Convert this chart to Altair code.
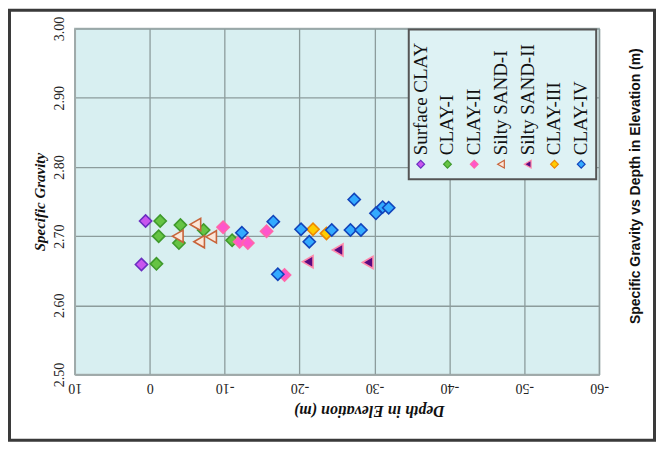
import altair as alt
import pandas as pd

SERIES = ["Surface CLAY", "CLAY-I", "CLAY-II", "Silty SAND-I", "Silty SAND-II", "CLAY-III", "CLAY-IV"]
FILLS = ["#c955ee", "#66c444", "#ff55cc", "#fbe6d8", "#5a0a80", "#ffcc00", "#33aaff"]
STROKES = ["#6a2fc0", "#3f9a2c", "#ff66aa", "#c8643a", "#ff88aa", "#ee8800", "#1144bb"]
SHAPES = ["diamond", "diamond", "diamond", "triangle-left", "triangle-left", "diamond", "diamond"]

surface_depth = [0.55, 1.1]
surface_sg = [2.722, 2.659]
clay1_depth = [-1.4, -1.2, -0.9, -4.1, -3.9, -7.2, -11.0]
clay1_sg = [2.722, 2.700, 2.660, 2.716, 2.690, 2.709, 2.694]
clay2_depth = [-9.8, -12.0, -13.1, -15.6, -18.0]
clay2_sg = [2.713, 2.692, 2.690, 2.707, 2.644]
sand1_depth = [-3.75, -6.1, -6.6, -8.2]
sand1_sg = [2.700, 2.717, 2.692, 2.699]
sand2_depth = [-21.1, -25.1, -29.1]
sand2_sg = [2.663, 2.680, 2.662]
clay3_depth = [-21.8, -23.6]
clay3_sg = [2.710, 2.704]
clay4_depth = [-12.3, -16.5, -17.1, -20.2, -21.3, -24.3, -26.8, -27.3, -28.2, -30.2, -31.1, -31.9]
clay4_sg = [2.705, 2.721, 2.645, 2.710, 2.692, 2.709, 2.709, 2.753, 2.709, 2.733, 2.742, 2.741]

X_TICKS = [10, 0, -10, -20, -30, -40, -50, -60]
Y_TICKS = [2.5, 2.6, 2.7, 2.8, 2.9, 3.0]

TITLE = "Specific Gravity vs Depth in Elevation (m)"
X_TITLE = "Depth in Elevation (m)"
Y_TITLE = "Specific Gravity"

groups = [
    ("Surface CLAY", surface_depth, surface_sg),
    ("CLAY-I", clay1_depth, clay1_sg),
    ("CLAY-II", clay2_depth, clay2_sg),
    ("Silty SAND-I", sand1_depth, sand1_sg),
    ("Silty SAND-II", sand2_depth, sand2_sg),
    ("CLAY-III", clay3_depth, clay3_sg),
    ("CLAY-IV", clay4_depth, clay4_sg),
]
rows = []
for name, ds, ss in groups:
    for d, s in zip(ds, ss):
        rows.append({"series": name, "depth": d, "sg": s, "ord": SERIES.index(name)})
df = pd.DataFrame(rows)
legend_df = pd.DataFrame({"series": SERIES})

W, H = 526, 347

color_scale = alt.Scale(domain=SERIES, range=FILLS)
stroke_scale = alt.Scale(domain=SERIES, range=STROKES)
shape_scale = alt.Scale(domain=SERIES, range=SHAPES)

points = alt.Chart(df).mark_point(filled=True, size=150, strokeWidth=1.6, opacity=1).encode(
    x=alt.X("depth:Q",
            scale=alt.Scale(domain=[10, -60], nice=False, zero=False),
            axis=alt.Axis(values=X_TICKS, title=X_TITLE, labelAngle=180, labelAlign="center",
                          labelBaseline="middle", labelPadding=13, ticks=False,
                          labelExpr="toString(datum.value)",
                          titleAngle=180, titleX=295, titleY=36, titleAlign="center",
                          titleBaseline="middle", titleFontSize=16)),
    y=alt.Y("sg:Q",
            scale=alt.Scale(domain=[2.5, 3.0], nice=False, zero=False),
            axis=alt.Axis(values=Y_TICKS, format=".2f", title=Y_TITLE, labelAngle=270,
                          labelAlign="center", labelBaseline="middle", labelPadding=15,
                          ticks=False, titleAngle=270, titleX=-35, titleBaseline="middle",
                          titleFontSize=15)),
    fill=alt.Fill("series:N", scale=color_scale, legend=None),
    stroke=alt.Stroke("series:N", scale=stroke_scale, legend=None),
    shape=alt.Shape("series:N", scale=shape_scale, legend=None),
    order=alt.Order("ord:Q"),
)

box = alt.Chart(alt.Data(values=[{}])).mark_rect(fill="#def2f4", stroke="#555555", strokeWidth=2).encode(
    x=alt.value(335), x2=alt.value(523), y=alt.value(1), y2=alt.value(151)
)

leg_x = alt.X("series:N", sort=SERIES, scale=alt.Scale(type="point", range=[347, 508], padding=0), axis=None)

leg_pts = alt.Chart(legend_df).mark_point(filled=True, size=60, strokeWidth=1.2, opacity=1).encode(
    x=leg_x,
    y=alt.value(136),
    fill=alt.Fill("series:N", scale=color_scale, legend=None),
    stroke=alt.Stroke("series:N", scale=stroke_scale, legend=None),
    shape=alt.Shape("series:N", scale=shape_scale, legend=None),
)

leg_txt = alt.Chart(legend_df).mark_text(angle=270, align="left", baseline="middle",
                                         font="Liberation Serif", fontSize=19, color="#111").encode(
    x=leg_x,
    y=alt.value(127),
    text="series:N",
)

title_txt = alt.Chart(alt.Data(values=[{}])).mark_text(angle=270, align="center", baseline="middle",
                                                         font="Liberation Sans", fontWeight="bold",
                                                         fontSize=14, color="#111").encode(
    x=alt.value(563), y=alt.value(158), text=alt.value(TITLE)
)

frame = alt.Chart(alt.Data(values=[{}])).mark_rect(filled=False, stroke="#3a3a3a", strokeWidth=3).encode(
    x=alt.value(-65.5), x2=alt.value(581.5), y=alt.value(-18.5), y2=alt.value(413)
)

chart = alt.layer(points, box, leg_pts, leg_txt, title_txt, frame).resolve_scale(
    x="independent"
).properties(
    width=W, height=H,
    autosize=alt.AutoSizeParams(type="none"),
    padding={"left": 67, "top": 20, "right": 58, "bottom": 68},
    background="white",
).configure_view(
    fill="#d8eff1", stroke="#a9b5b5", strokeWidth=1.5
).configure_axis(
    gridColor="#8c9c9c", gridWidth=1.3, domainColor="#a0aaaa", domainWidth=1.5,
    labelFont="Liberation Serif", labelFontSize=14, labelColor="#222222",
    titleFont="Liberation Serif", titleFontWeight="bold",
    titleFontStyle="italic", titleColor="#111111",
)

chart.save("out.html", embed_options={"renderer": "svg", "actions": False})
